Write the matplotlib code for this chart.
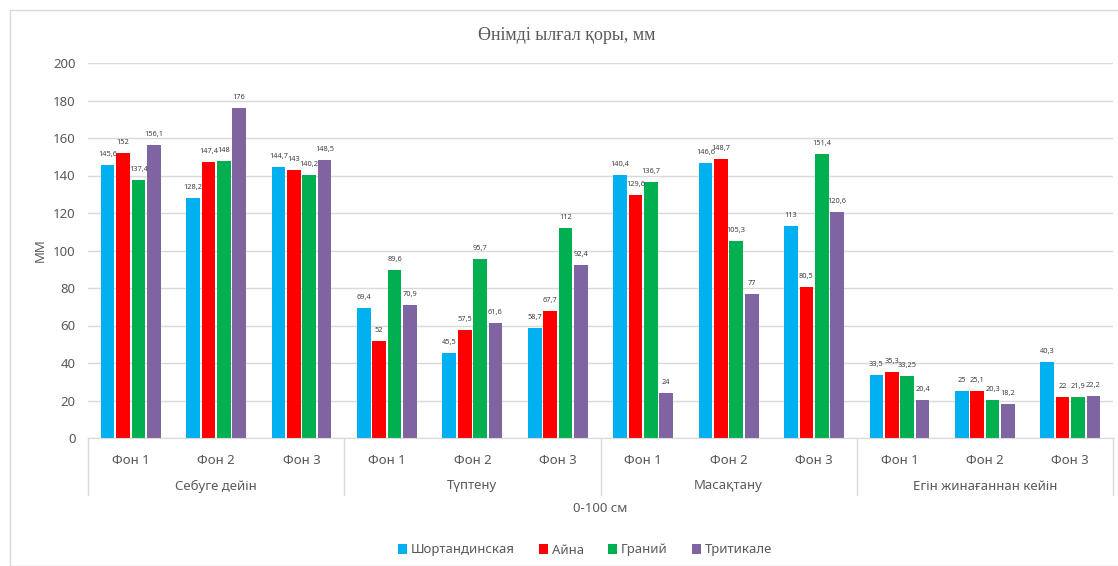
import matplotlib.pyplot as plt
import numpy as np
from matplotlib.patches import Rectangle
import matplotlib.transforms as mtransforms

# --- data ---
stages = ["Себуге дейін", "Түптену", "Масақтану", "Егін жинағаннан кейін"]
fons = ["Фон 1", "Фон 2", "Фон 3"]
series = ["Шортандинская", "Айна", "Граний", "Тритикале"]
colors = ["#00B0F0", "#FF0000", "#00B050", "#8064A2"]

shortandinskaya = [145.6, 128.2, 144.7, 69.4, 45.5, 58.7, 140.4, 146.6, 113, 33.5, 25, 40.3]
aina = [152, 147.4, 143, 52, 57.5, 67.7, 129.6, 148.7, 80.5, 35.3, 25.1, 22]
graniy = [137.4, 148, 140.2, 89.6, 95.7, 112, 136.7, 105.3, 151.4, 33.25, 20.3, 21.9]
tritikale = [156.1, 176, 148.5, 70.9, 61.6, 92.4, 24, 77, 120.6, 20.4, 18.2, 22.2]
values = [shortandinskaya, aina, graniy, tritikale]

plt.rcParams["font.family"] = ["Noto Sans", "DejaVu Sans"]

W, H = 1118, 566
fig = plt.figure(figsize=(W / 100, H / 100), dpi=100)
fig.patches.append(Rectangle((10 / W, 0), 1, 1 - 10 / H, transform=fig.transFigure,
                             fill=False, edgecolor="#d9d9d9", linewidth=1))

left, right, top, bottom = 88, 1113, 63, 438
ax = fig.add_axes([left / W, 1 - bottom / H, (right - left) / W, (bottom - top) / H])

grey = "#595959"
fs = 9.5
n = len(stages) * len(fons)
x = np.arange(n)
pitch, width = 0.18, 0.16
for i, (name, vals, c) in enumerate(zip(series, values, colors)):
    xs = x + (i - 1.5) * pitch
    ax.bar(xs, vals, width, color=c, label=name)
    for xi, v in zip(xs, vals):
        ax.annotate(f"{v:g}".replace(".", ","), (xi, v), xytext=(0, 5),
                    textcoords="offset points", ha="center", va="bottom",
                    fontsize=5.3, color="#404040")

ax.set_xlim(-0.5, n - 0.5)
ax.set_ylim(0, 200)
ax.set_yticks(range(0, 201, 20))
ax.tick_params(axis="y", length=0, labelsize=fs, labelcolor=grey, pad=9)
ax.set_xticks([])
ax.grid(axis="y", color="#d9d9d9", linewidth=1)
ax.set_axisbelow(True)
for s in ["top", "right", "left"]:
    ax.spines[s].set_visible(False)
ax.spines["bottom"].set_color("#d9d9d9")

# multi-level category axis
trans = mtransforms.blended_transform_factory(ax.transData, ax.transAxes)
ph = bottom - top
for k in range(n):
    ax.text(x[k], -22 / ph, fons[k % 3], transform=trans, ha="center", va="center",
            fontsize=fs, color=grey)
for g, st in enumerate(stages):
    ax.text(g * 3 + 1, -48 / ph, st, transform=trans, ha="center", va="center",
            fontsize=fs, color=grey)
for b in range(len(stages) + 1):
    ax.plot([b * 3 - 0.5] * 2, [0, -57 / ph], transform=trans, color="#d9d9d9",
            linewidth=1, clip_on=False)

fig.text((left + right) / 2 / W, 1 - 508 / H, "0-100 см", ha="center", va="center",
         fontsize=fs, color=grey)
fig.text(40 / W, 1 - 250 / H, "ММ", rotation=90, ha="center", va="center",
         fontsize=fs, color=grey)
fig.text(567 / W, 1 - 35 / H, "Өнімді ылғал қоры, мм", ha="center", va="center",
         fontsize=13, color=grey, family="Liberation Serif")

fig.legend(loc="center", bbox_to_anchor=(585 / W, 1 - 550 / H), ncol=4, frameon=False,
           fontsize=fs, handlelength=0.7, handleheight=0.7, handletextpad=0.3,
           columnspacing=1.8, labelcolor=grey)

fig.savefig("out.png", dpi=100)
